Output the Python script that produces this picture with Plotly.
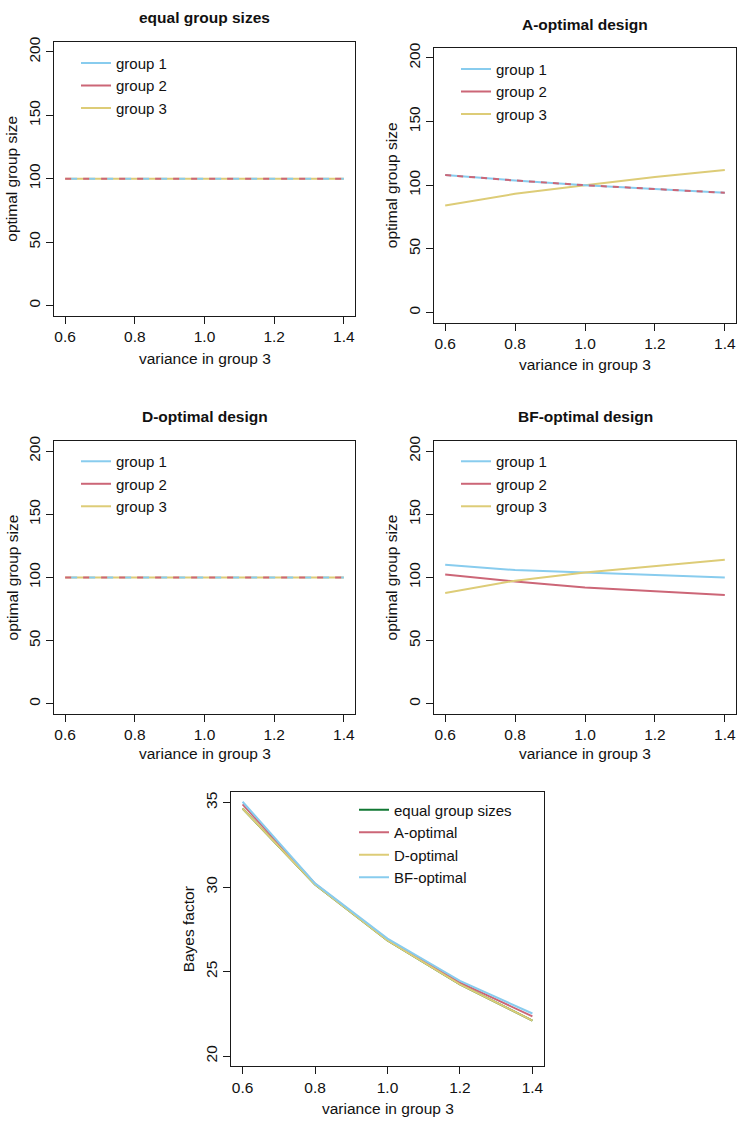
import plotly.graph_objects as go

# ---------------- data ----------------
x_var = [0.6, 0.8, 1.0, 1.2, 1.4]

equal_g1 = [100, 100, 100, 100, 100]
equal_g2 = [100, 100, 100, 100, 100]
equal_g3 = [100, 100, 100, 100, 100]

aopt_g1 = [108, 103.7, 100, 96.9, 94]
aopt_g2 = [108, 103.7, 100, 96.9, 94]
aopt_g3 = [84, 93.2, 100, 106.4, 112]

dopt_g1 = [100, 100, 100, 100, 100]
dopt_g2 = [100, 100, 100, 100, 100]
dopt_g3 = [100, 100, 100, 100, 100]

bfopt_g1 = [110, 105.8, 104, 102.2, 100]
bfopt_g2 = [102.3, 96.8, 92, 88.9, 86]
bfopt_g3 = [87.7, 97.4, 104, 108.9, 114]

bf_equal = [34.65, 30.15, 26.85, 24.25, 22.1]
bf_aopt = [34.9, 30.2, 26.9, 24.35, 22.35]
bf_dopt = [34.65, 30.15, 26.85, 24.25, 22.1]
bf_bfopt = [35.05, 30.22, 26.95, 24.45, 22.52]

group_names = ["group 1", "group 2", "group 3"]
design_names = ["equal group sizes", "A-optimal", "D-optimal", "BF-optimal"]
panel_titles = ["equal group sizes", "A-optimal design", "D-optimal design", "BF-optimal design"]
size_ticks = [0, 50, 100, 150, 200]
bf_ticks = [20, 25, 30, 35]
x_ticks = [0.6, 0.8, 1.0, 1.2, 1.4]

# ---------------- style ----------------
W, H = 739, 1121
FONT = "Liberation Sans, Arial, sans-serif"
CYAN, ROSE, SAND, GREEN = "#88CCEE", "#CC6677", "#DDCC77", "#117733"
LW = 2
FS = 15.5

def xd(a, b):
    return [a / W, b / W]

def yd(top, bottom):
    return [1 - bottom / H, 1 - top / H]

# panel boxes in pixels: (left, right, top, bottom)
boxes = [
    (54, 355, 37, 312),
    (434, 736, 43, 319),
    (54, 355, 438, 712),
    (434, 736, 438, 712),
    (231, 544, 791, 1066),
]

fig = go.Figure()

def add_line(idx, y, color, dash="solid"):
    sfx = "" if idx == 1 else str(idx)
    fig.add_trace(go.Scatter(
        x=x_var, y=y, mode="lines",
        line=dict(color=color, width=LW, dash=dash),
        xaxis="x" + sfx, yaxis="y" + sfx, showlegend=False,
        hoverinfo="skip"))

def add_proxy(idx, legend_id, name, color):
    sfx = "" if idx == 1 else str(idx)
    fig.add_trace(go.Scatter(
        x=[None], y=[None], mode="lines", name=name,
        line=dict(color=color, width=LW),
        xaxis="x" + sfx, yaxis="y" + sfx, legend=legend_id))

# panel 1: equal group sizes (overlapping lines)
add_line(1, equal_g3, SAND)
add_line(1, equal_g1, CYAN, "0px,6px,6px,6px")
add_line(1, equal_g2, ROSE, "6px,12px")
# panel 2: A-optimal
add_line(2, aopt_g3, SAND)
add_line(2, aopt_g1, CYAN)
add_line(2, aopt_g2, ROSE, "6px,6px")
# panel 3: D-optimal
add_line(3, dopt_g3, SAND)
add_line(3, dopt_g1, CYAN, "0px,6px,6px,6px")
add_line(3, dopt_g2, ROSE, "6px,12px")
# panel 4: BF-optimal
add_line(4, bfopt_g1, CYAN)
add_line(4, bfopt_g2, ROSE)
add_line(4, bfopt_g3, SAND)
# panel 5: Bayes factor
add_line(5, bf_equal, GREEN)
add_line(5, bf_aopt, ROSE)
add_line(5, bf_dopt, SAND)
add_line(5, bf_bfopt, CYAN)

legend_ids = ["legend", "legend2", "legend3", "legend4"]
for p in range(4):
    for name, col in zip(group_names, [CYAN, ROSE, SAND]):
        add_proxy(p + 1, legend_ids[p], name, col)
for name, col in zip(design_names, [GREEN, ROSE, SAND, CYAN]):
    add_proxy(5, "legend5", name, col)

axis_common = dict(
    showline=True, mirror=True, linecolor="#1a1a1a", linewidth=1,
    ticks="outside", ticklen=7, tickcolor="#1a1a1a", tickwidth=1,
    showgrid=False, zeroline=False,
    tickfont=dict(family=FONT, size=FS, color="#111"),
    fixedrange=True,
)

layout = dict(
    width=W, height=H, margin=dict(l=0, r=0, t=0, b=0),
    paper_bgcolor="white", plot_bgcolor="white",
    font=dict(family=FONT, size=FS, color="#111"),
    showlegend=True,
)

for i, (l, r, t, b) in enumerate(boxes):
    n = i + 1
    sfx = "" if n == 1 else str(n)
    yr = [-8, 208] if n < 5 else [19.4, 35.6]
    yt = size_ticks if n < 5 else bf_ticks
    layout["xaxis" + sfx] = dict(
        axis_common, domain=xd(l, r), range=[0.568, 1.432],
        tickvals=x_ticks, tickformat=".1f",
        anchor="y" + sfx)
    layout["yaxis" + sfx] = dict(
        axis_common, domain=yd(t, b), range=yr,
        tickvals=yt, tickangle=-90,
        anchor="x" + sfx)

# legends (pixel positions of top-left)
leg_pos = [(76, 42), (456, 48), (76, 442), (456, 442), (354, 792)]
for lid, (lx, ly) in zip(legend_ids + ["legend5"], leg_pos):
    layout[lid] = dict(
        x=lx / W, y=1 - ly / H, xanchor="left", yanchor="top",
        bgcolor="rgba(0,0,0,0)", borderwidth=0,
        font=dict(family=FONT, size=15, color="#111"),
        tracegroupgap=0,
    )

annotations = []
def ann(text, px, py, size=FS, angle=0):
    annotations.append(dict(
        text=text, x=px / W, y=1 - py / H, xref="paper", yref="paper",
        showarrow=False, xanchor="center", yanchor="middle",
        textangle=angle, font=dict(family=FONT, size=size, color="#111")))

# titles
title_y = [13, 20, 413, 413]
for i in range(4):
    l, r, t, b = boxes[i]
    ann("<b>" + panel_titles[i] + "</b>", (l + r) / 2, title_y[i])

# x axis titles
xt_y = [355, 361, 752, 752, 1108]
for i in range(5):
    l, r, t, b = boxes[i]
    ann("variance in group 3", (l + r) / 2, xt_y[i])

# y axis titles
yt_x = [12, 391, 12, 391, 188]
for i in range(5):
    l, r, t, b = boxes[i]
    label = "optimal group size" if i < 4 else "Bayes factor"
    ann(label, yt_x[i], (t + b) / 2, angle=-90)

layout["annotations"] = annotations
fig.update_layout(**layout)

fig.write_html("out.html")
